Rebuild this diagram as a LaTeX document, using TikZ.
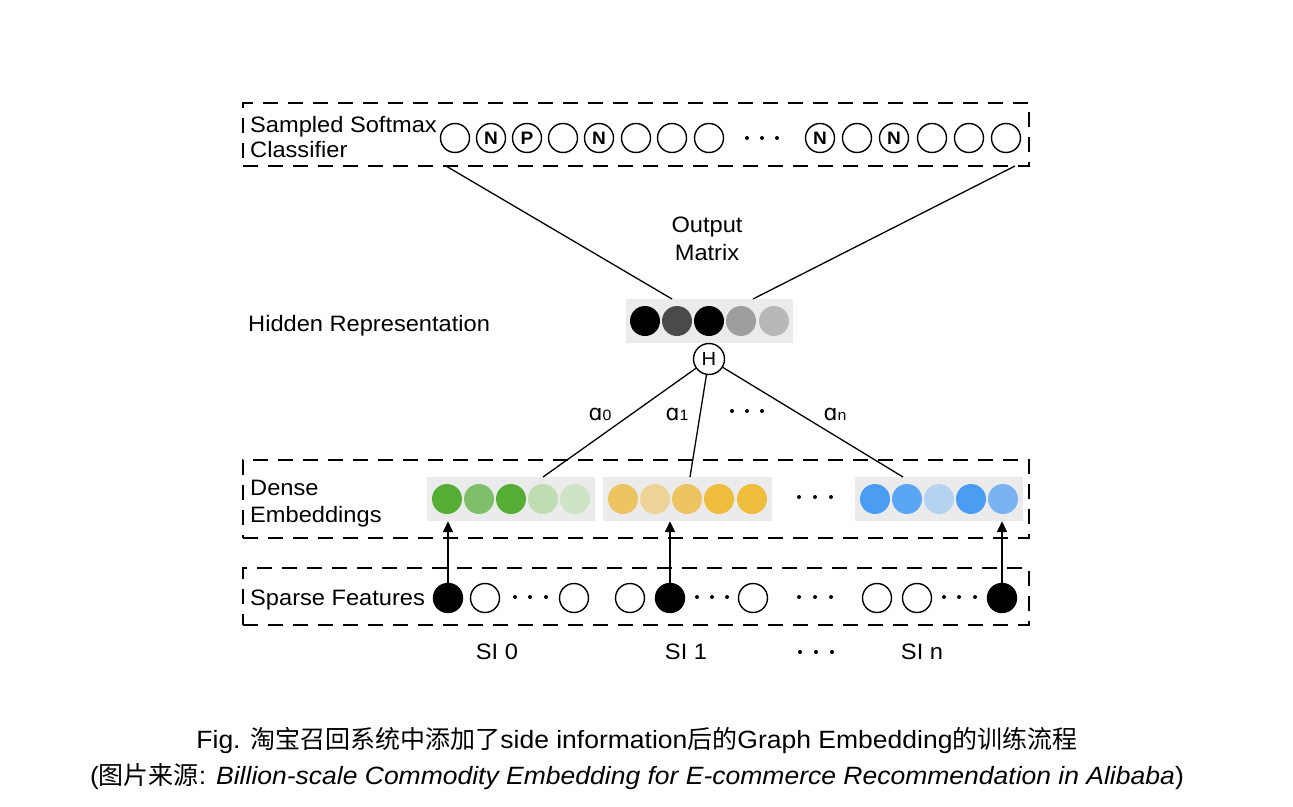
\documentclass[tikz,border=0pt]{standalone}
\usepackage{fontspec}
\setmainfont[FakeStretch=1.06]{Liberation Sans}
\newfontfamily\capfont[FakeStretch=1.06]{Liberation Sans}
\newfontfamily\cjk{Noto Sans CJK SC}
\newfontfamily\ipafont{DejaVu Sans}
\usetikzlibrary{arrows.meta}
\definecolor{barbg}{HTML}{EBEBEB}
\definecolor{gA}{HTML}{56AE35}
\definecolor{gB}{HTML}{80BF6A}
\definecolor{gC}{HTML}{BFDCB3}
\definecolor{gD}{HTML}{CFE3C6}
\definecolor{yA}{HTML}{EEC463}
\definecolor{yB}{HTML}{EDD398}
\definecolor{yC}{HTML}{EEBD3E}
\definecolor{bA}{HTML}{4B9DF3}
\definecolor{bB}{HTML}{5BA6F4}
\definecolor{bC}{HTML}{B5D3F1}
\definecolor{bD}{HTML}{7BB3F2}
\definecolor{kA}{HTML}{4A4A4A}
\definecolor{kB}{HTML}{9E9E9E}
\definecolor{kC}{HTML}{B8B8B8}
\begin{document}
\begin{tikzpicture}[x=1pt,y=-1pt,
  dbox/.style={draw, line width=2pt, dash pattern=on 15pt off 10pt, inner sep=0, minimum width=786pt},
  lbl/.style={font=\fontsize{22.3}{26}\selectfont, inner sep=0, anchor=base west},
  clbl/.style={font=\fontsize{22.3}{26}\selectfont, inner sep=0, anchor=base},
  caplbl/.style={font=\fontsize{25}{29}\selectfont, inner sep=0, anchor=base},
  ocirc/.style={circle, draw, line width=1.4pt, minimum size=29pt, inner sep=0, font=\fontsize{18}{20}\selectfont\bfseries},
  emb/.style={circle, minimum size=30pt, inner sep=0},
  bar/.style={fill=barbg, inner sep=0, minimum height=44pt},
  conn/.style={line width=1.3pt},
  arr/.style={line width=1.6pt, -{Triangle[length=11pt,width=10pt]}},
  dot/.style={circle, fill, inner sep=0, minimum size=4pt},
  alab/.style={inner sep=0, anchor=base},
]
\useasboundingbox (0,0) rectangle (1293,806);
\fill[white] (0,0) rectangle (1293,806);

% ---------- dashed boxes ----------
\node[dbox, minimum height=63pt] (topbox) at (636,134.5) {};
\node[dbox, minimum height=78pt] (densebox) at (636,499) {};
\node[dbox, minimum height=57pt] (sparsebox) at (636,596.5) {};

% ---------- left labels ----------
\node[lbl] (ssm) at (250,132) {Sampled Softmax};
\node[lbl] (cls) at (250,157) {Classifier};
\node[lbl] (hid) at (248,331) {Hidden Representation};
\node[lbl] (den) at (250,495) {Dense};
\node[lbl] (embl) at (250,522) {Embeddings};
\node[lbl] (spa) at (250,605) {Sparse Features};
\node[clbl] (out1) at (707,232) {Output};
\node[clbl] (out2) at (707,260) {Matrix};

% ---------- softmax classifier circles ----------
\node[ocirc] (t1) at (455,138) {};
\node[ocirc] (t2) at (491,138) {N};
\node[ocirc] (t3) at (527,138) {P};
\node[ocirc] (t4) at (563,138) {};
\node[ocirc] (t5) at (599,138) {N};
\node[ocirc] (t6) at (636,138) {};
\node[ocirc] (t7) at (672,138) {};
\node[ocirc] (t8) at (709,138) {};
\node[dot] (td1) at (747,138) {};
\node[dot] (td2) at (762,138) {};
\node[dot] (td3) at (777,138) {};
\node[ocirc] (r1) at (820,138) {N};
\node[ocirc] (r2) at (857,138) {};
\node[ocirc] (r3) at (894,138) {N};
\node[ocirc] (r4) at (932,138) {};
\node[ocirc] (r5) at (969,138) {};
\node[ocirc] (r6) at (1006,138) {};

% ---------- hidden representation ----------
\node[bar, minimum width=167pt] (hbar) at (709.5,321) {};
\node[emb, fill=black] (h1) at (645,321) {};
\node[emb, fill=kA] (h2) at (677,321) {};
\node[emb, fill=black] (h3) at (709,321) {};
\node[emb, fill=kB] (h4) at (741,321) {};
\node[emb, fill=kC] (h5) at (774,321) {};
\node[circle, draw, line width=1.4pt, minimum size=31pt, inner sep=0, font=\fontsize{19}{20}\selectfont] (H) at (709,359) {H};

\coordinate (tl) at (446,166);
\coordinate (tr) at (1015,166);
\coordinate (hl) at (672,299);
\coordinate (hr) at (753,299);
\draw[conn] (tl) -- (hl);
\draw[conn] (tr) -- (hr);

% ---------- dense embeddings ----------
\node[bar, minimum width=168pt] (gbar) at (511,499) {};
\node[emb, fill=gA] (g1) at (447,499) {};
\node[emb, fill=gB] (g2) at (479,499) {};
\node[emb, fill=gA] (g3) at (511,499) {};
\node[emb, fill=gC] (g4) at (543,499) {};
\node[emb, fill=gD] (g5) at (575,499) {};

\node[bar, minimum width=169pt] (ybar) at (687.5,499) {};
\node[emb, fill=yA] (y1) at (623,499) {};
\node[emb, fill=yB] (y2) at (655,499) {};
\node[emb, fill=yA] (y3) at (687,499) {};
\node[emb, fill=yC] (y4) at (719,499) {};
\node[emb, fill=yC] (y5) at (752,499) {};

\node[dot] (dd1) at (799,497) {};
\node[dot] (dd2) at (815,497) {};
\node[dot] (dd3) at (831,497) {};

\node[bar, minimum width=168pt] (bbar) at (939,499) {};
\node[emb, fill=bA] (b1) at (875,499) {};
\node[emb, fill=bB] (b2) at (907,499) {};
\node[emb, fill=bC] (b3) at (939,499) {};
\node[emb, fill=bA] (b4) at (971,499) {};
\node[emb, fill=bD] (b5) at (1003,499) {};

% ---------- attention lines ----------
\coordinate (ag) at (543,477);
\coordinate (ay) at (690,477);
\coordinate (ab) at (903,477);
\draw[conn] (H) -- (ag);
\draw[conn] (H) -- (ay);
\draw[conn] (H) -- (ab);
\node[alab] (a0) at (600,420) {{\ipafont\fontsize{22}{24}\selectfont ɑ}{\fontsize{15}{16}\selectfont 0}};
\node[alab] (a1) at (677,420) {{\ipafont\fontsize{22}{24}\selectfont ɑ}{\fontsize{15}{16}\selectfont 1}};
\node[dot] (ad1) at (732,411) {};
\node[dot] (ad2) at (747,411) {};
\node[dot] (ad3) at (762,411) {};
\node[alab] (an) at (835,420) {{\ipafont\fontsize{22}{24}\selectfont ɑ}{\fontsize{15}{16}\selectfont n}};

% ---------- sparse features ----------
\node[ocirc, fill=black] (s1) at (448,598) {};
\node[ocirc] (s2) at (485,598) {};
\node[dot] (sd1) at (515,597) {};
\node[dot] (sd2) at (530,597) {};
\node[dot] (sd3) at (546,597) {};
\node[ocirc] (s3) at (574,598) {};
\node[ocirc] (s4) at (630,598) {};
\node[ocirc, fill=black] (s5) at (670,598) {};
\node[dot] (sd4) at (697,597) {};
\node[dot] (sd5) at (712,597) {};
\node[dot] (sd6) at (727,597) {};
\node[ocirc] (s6) at (753,598) {};
\node[dot] (sd7) at (799,597) {};
\node[dot] (sd8) at (815,597) {};
\node[dot] (sd9) at (831,597) {};
\node[ocirc] (s7) at (877,598) {};
\node[ocirc] (s8) at (917,598) {};
\node[dot] (sd10) at (944,597) {};
\node[dot] (sd11) at (959,597) {};
\node[dot] (sd12) at (975,597) {};
\node[ocirc, fill=black] (s9) at (1002,598) {};

\draw[arr] (s1) -- (s1 |- gbar.south);
\draw[arr] (s5) -- (s5 |- ybar.south);
\draw[arr] (s9) -- (s9 |- bbar.south);

% ---------- SI labels ----------
\node[clbl] (si0) at (497,659) {SI 0};
\node[clbl] (si1) at (686,659) {SI 1};
\node[dot] (sid1) at (800,652) {};
\node[dot] (sid2) at (816,652) {};
\node[dot] (sid3) at (832,652) {};
\node[clbl] (sin) at (922,659) {SI n};

% ---------- caption ----------
\node[caplbl] (cap1) at (637,748) {Fig. {\cjk 淘宝召回系统中添加了}side information{\cjk 后的}Graph Embedding{\cjk 的训练流程}};
\node[caplbl] (cap2) at (637,784) {({\cjk 图片来源}: \textit{Billion-scale Commodity Embedding for E-commerce Recommendation in Alibaba})};
\end{tikzpicture}
\end{document}
